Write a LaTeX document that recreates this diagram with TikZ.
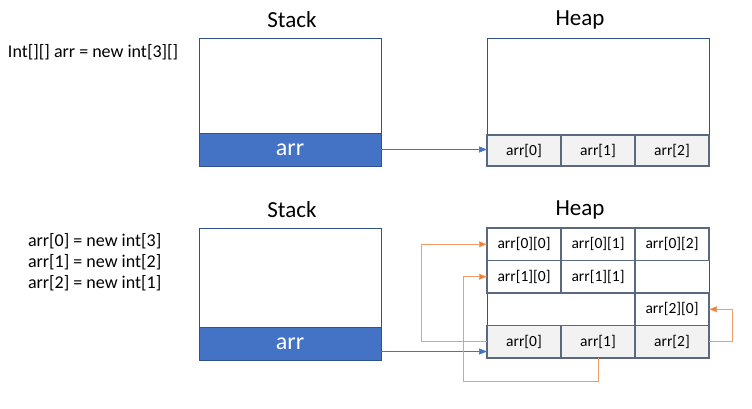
\documentclass[tikz,border=0pt]{standalone}
\usepackage{fontspec}
\setmainfont{Carlito}
\usetikzlibrary{arrows.meta,positioning}
\definecolor{FrameBlue}{RGB}{47, 82, 143}
\definecolor{BandBlue}{RGB}{68, 114, 196}
\definecolor{CellGray}{RGB}{242, 242, 242}
\definecolor{CellLine}{RGB}{90, 104, 128}
\definecolor{RefOrange}{RGB}{237, 125, 49}

\begin{document}
\begin{tikzpicture}[
    x=1pt, y=-1pt,
    every node/.style={outer sep=0pt, inner sep=0pt},
    memory/.style={draw=FrameBlue, line width=0.9pt, fill=white, minimum width=182pt},
    heapbox/.style={draw=FrameBlue, line width=0.9pt, fill=white, minimum width=222pt},
    band/.style={draw=FrameBlue, line width=0.9pt, fill=BandBlue, text=white, font=\fontsize{24}{26}\selectfont, minimum width=182pt, minimum height=33pt},
    cell/.style={draw=CellLine, line width=1.1pt, fill=CellGray, minimum width=74pt, minimum height=32.5pt, font=\fontsize{15.5}{17}\selectfont},
    slot/.style={cell, fill=white},
    title/.style={font=\fontsize{23}{26}\selectfont},
    code/.style={font=\fontsize{18}{21}\selectfont, align=left, anchor=west},
    ptr/.style={-{Triangle[length=8pt, width=6pt]}, draw=BandBlue, line width=0.7pt},
    optr/.style={-{Triangle[length=8pt, width=6pt, fill=RefOrange]}, draw=RefOrange!75, line width=0.7pt}
  ]
    \useasboundingbox (0,0) rectangle (752,408);

    % first step: only the outer array
    \node[code] (decl) at (8,52) {Int[][] arr = new int[3][]};
    \node[title] (stacktop) at (292,20) {Stack};
    \node[title] (heaptop) at (580,20) {Heap};
    \node[memory, minimum height=128pt, anchor=north west] (stack1) at (199,38) {};
    \node[band, anchor=south west] (arr1) at (stack1.south west) {arr};
    \node[heapbox, minimum height=128pt, anchor=north west] (heap1) at (487,38) {};
    \node[cell, anchor=south west, minimum height=31pt] (a0) at (heap1.south west) {arr[0]};
    \node[cell, right=0pt of a0, minimum height=31pt] (a1) {arr[1]};
    \node[cell, right=0pt of a1, minimum height=31pt] (a2) {arr[2]};

    \draw[ptr] (arr1.east) -- (arr1.east -| a0.west);

    % second step: the inner arrays
    \node[code] (inits) at (28,262) {arr[0] = new int[3]\\arr[1] = new int[2]\\arr[2] = new int[1]};
    \node[title] (stackbot) at (292,210) {Stack};
    \node[title] (heapbot) at (580,210) {Heap};
    \node[memory, minimum height=132pt, anchor=north west] (stack2) at (199,228) {};
    \node[band, anchor=south west] (arr2) at (stack2.south west) {arr};
    \node[heapbox, minimum height=130pt, anchor=north west] (heap2) at (487,228) {};

    \node[cell, anchor=south west] (b0) at (heap2.south west) {arr[0]};
    \node[cell, right=0pt of b0] (b1) {arr[1]};
    \node[cell, right=0pt of b1] (b2) {arr[2]};

    \node[slot, anchor=north west] (r00) at (heap2.north west) {arr[0][0]};
    \node[slot, right=0pt of r00] (r01) {arr[0][1]};
    \node[slot, right=0pt of r01] (r02) {arr[0][2]};
    \node[slot, below=0pt of r00] (r10) {arr[1][0]};
    \node[slot, right=0pt of r10] (r11) {arr[1][1]};
    \node[slot, above=0pt of b2] (r20) {arr[2][0]};

    \coordinate (bend0) at ([xshift=-66pt]b0.west);
    \coordinate (bend1) at ([yshift=-23pt]b1.south -| 463,0);
    \coordinate (bend2) at ([xshift=23pt]b2.east);

    \draw[ptr] ([yshift=-8pt]arr2.east) -- ([yshift=-8pt]arr2.east -| b0.west);
    \draw[optr] (b0.west) -- (bend0) |- (r00.west);
    \draw[optr] (b1.south) |- (bend1) |- (r10.west);
    \draw[optr] (b2.east) -- (bend2) |- (r20.east);
\end{tikzpicture}
\end{document}
